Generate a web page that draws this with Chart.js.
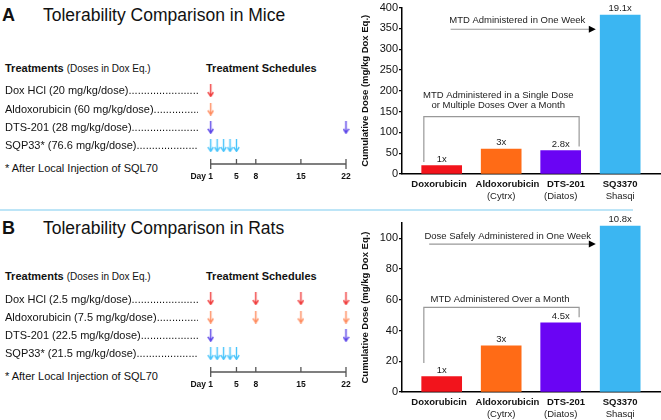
<!DOCTYPE html>
<html>
<head>
<meta charset="utf-8">
<script src="https://cdn.jsdelivr.net/npm/chart.js@4.4.1/dist/chart.umd.min.js"></script>
<style>
  body { margin: 0; background: #fff; }
  #fig { position: relative; width: 661px; height: 420px; overflow: hidden; font-family: "Liberation Sans", Arial, sans-serif; color: #111; }
  #fig div, #fig canvas { position: absolute; }
  .tag { left: 2px; font-size: 18px; font-weight: bold; line-height: 20px; }
  .title { left: 43px; font-size: 17.5px; line-height: 20px; white-space: nowrap; }
  .head { font-size: 11px; font-weight: bold; line-height: 13px; white-space: nowrap; }
  .head span { font-weight: normal; font-size: 10px; }
  .row { left: 5px; width: 193px; font-size: 11px; line-height: 13px; display: flex; white-space: nowrap; overflow: hidden; }
  .row .dots { flex: 1; min-width: 0; overflow: hidden; }
  .note { left: 5px; font-size: 11px; line-height: 13px; white-space: nowrap; }
  .divider { left: 0; top: 209px; width: 633px; height: 1.5px; background: #bde5f7; }
</style>
</head>
<body>
<div id="fig">
  <div class="tag" style="top:5px">A</div>
  <div class="title" style="top:5px">Tolerability Comparison in Mice</div>
  <div class="head" style="left:5px;top:61.5px">Treatments <span>(Doses in Dox Eq.)</span></div>
  <div class="head" style="left:206px;top:61.5px">Treatment Schedules</div>
  <div class="note" style="top:161.5px">* After Local Injection of SQL70</div>
  <canvas id="schedA" width="170" height="110" style="left:190px;top:76px"></canvas>
  <canvas id="barA" width="331" height="203" style="left:330px;top:0"></canvas>

  <div class="divider"></div>

  <div class="tag" style="top:218px">B</div>
  <div class="title" style="top:218px">Tolerability Comparison in Rats</div>
  <div class="head" style="left:5px;top:269.5px">Treatments <span>(Doses in Dox Eq.)</span></div>
  <div class="head" style="left:206px;top:269.5px">Treatment Schedules</div>
  <div class="note" style="top:370px">* After Local Injection of SQL70</div>
  <canvas id="schedB" width="170" height="110" style="left:190px;top:284px"></canvas>
  <canvas id="barB" width="331" height="208" style="left:330px;top:212px"></canvas>
</div>
<script>
// bar chart data
const drugs = ["Doxorubicin", "Aldoxorubicin", "DTS-201", "SQ3370"];
const makers = ["", "(Cytrx)", "(Diatos)", "Shasqi"];
const barColors = ["#f2141c", "#ff6b16", "#6a04f4", "#3bb6f2"];
const miceDose = [20, 60, 56, 382];
const miceFold = ["1x", "3x", "2.8x", "19.1x"];
const ratDose = [10, 30, 45, 108];
const ratFold = ["1x", "3x", "4.5x", "10.8x"];
// where the drug names sit on the x axis (they are not quite centred in the original)
const labelAt = [0.955, 2.106, 3.089, 4.0];

// schedules (days a dose is given, one list per treatment row)
const dayTicks = [1, 5, 8, 15, 22];
const arrowColors = ["#f03a3a", "#ff8a5c", "#5b44e8", "#48c4fb"];
const miceTreatments = ["Dox HCl (20 mg/kg/dose)", "Aldoxorubicin (60 mg/kg/dose) ", "DTS-201 (28 mg/kg/dose) ", "SQP33* (76.6 mg/kg/dose)"];
const ratTreatments = ["Dox HCl (2.5 mg/kg/dose)", "Aldoxorubicin (7.5 mg/kg/dose) ", "DTS-201 (22.5 mg/kg/dose) ", "SQP33* (21.5 mg/kg/dose)"];
const miceDays = [[1], [1], [1, 22], [1, 2, 3, 4, 5]];
const ratDays = [[1, 8, 15, 22], [1, 8, 15, 22], [1, 22], [1, 2, 3, 4, 5]];

const FONT = "'Liberation Sans', Arial, sans-serif";
Chart.defaults.font.family = FONT;
Chart.defaults.color = "#111";

const fig = document.getElementById("fig");
function addRows(names, top) {
  names.forEach((n, i) => {
    const d = document.createElement("div");
    d.className = "row";
    d.style.top = (top + i * 18.33) + "px";
    d.innerHTML = `<span>${n}</span><span class="dots">${".".repeat(70)}</span>`;
    fig.appendChild(d);
  });
}
addRows(miceTreatments, 84.3);
addRows(ratTreatments, 292.5);

// little down arrow used as point style
function arrowImg(color) {
  const c = document.createElement("canvas");
  c.width = 7; c.height = 13;
  const g = c.getContext("2d");
  g.strokeStyle = color;
  g.lineWidth = 1.4;
  g.beginPath(); g.moveTo(3.5, 0); g.lineTo(3.5, 12); g.stroke();
  g.beginPath(); g.moveTo(0.8, 8); g.lineTo(3.5, 12.2); g.lineTo(6.2, 8); g.stroke();
  return c;
}

const dayAxisPlugin = {
  id: "dayAxis",
  afterDraw(chart) {
    const { ctx, scales: { x, y } } = chart;
    const base = y.bottom;
    ctx.save();
    ctx.strokeStyle = "#555";
    ctx.lineWidth = 1.3;
    ctx.beginPath(); ctx.moveTo(x.left, base); ctx.lineTo(x.right, base); ctx.stroke();
    dayTicks.forEach((d, i) => {
      const px = x.getPixelForValue(d);
      const end = i === 0 || i === dayTicks.length - 1;
      ctx.beginPath(); ctx.moveTo(px, base - 5); ctx.lineTo(px, end ? base + 5 : base); ctx.stroke();
    });
    ctx.fillStyle = "#111";
    ctx.font = "bold 8.5px " + FONT;
    ctx.textBaseline = "middle";
    dayTicks.forEach((d, i) => {
      const px = x.getPixelForValue(d);
      if (i === 0) {
        ctx.textAlign = "right";
        ctx.fillText("Day " + d, px + ctx.measureText(String(d)).width / 2, base + 12.7);
      } else {
        ctx.textAlign = "center";
        ctx.fillText(String(d), px, base + 12.7);
      }
    });
    ctx.restore();
  }
};

function scheduleChart(id, days) {
  return new Chart(document.getElementById(id), {
    type: "scatter",
    data: {
      datasets: days.map((list, row) => ({
        data: list.map((d) => ({ x: d, y: row })),
        pointStyle: arrowImg(arrowColors[row]),
        pointRadius: 5,
        clip: false
      }))
    },
    options: {
      responsive: false,
      animation: false,
      layout: { autoPadding: false, padding: { left: 20.7, right: 14, top: 0, bottom: 22 } },
      plugins: { legend: { display: false }, tooltip: { enabled: false } },
      scales: {
        x: { type: "linear", min: 1, max: 22, display: false },
        y: { type: "linear", min: -0.8, max: 4, reverse: true, display: false }
      }
    },
    plugins: [dayAxisPlugin]
  });
}

const notesPlugin = {
  id: "notes",
  afterDatasetsDraw(chart, args, o) {
    const { ctx, scales: { x, y } } = chart;
    const bars = chart.getDatasetMeta(0).data;
    ctx.save();
    ctx.fillStyle = "#222";
    ctx.textAlign = "center";
    ctx.font = "9.5px " + FONT;

    // fold change labels above bars
    ctx.textBaseline = "bottom";
    o.folds.forEach((f, i) => ctx.fillText(f, bars[i].x, bars[i].y - 1.5));

    // maker names under the drug names
    ctx.textBaseline = "middle";
    makers.forEach((m, i) => ctx.fillText(m, x.getPixelForValue(i + 1), x.top + 22));

    // arrow + caption
    const a = o.arrow;
    const ay = y.getPixelForValue(a.y);
    const ax1 = x.getPixelForValue(a.x1), ax2 = x.getPixelForValue(a.x2);
    ctx.strokeStyle = "#999";
    ctx.lineWidth = 1.2;
    ctx.beginPath(); ctx.moveTo(ax1, ay); ctx.lineTo(ax2 - 6, ay); ctx.stroke();
    ctx.fillStyle = "#000";
    ctx.beginPath(); ctx.moveTo(ax2, ay); ctx.lineTo(ax2 - 7, ay - 3.5); ctx.lineTo(ax2 - 7, ay + 3.5); ctx.closePath(); ctx.fill();
    ctx.fillStyle = "#222";
    ctx.fillText(a.text, x.getPixelForValue(a.tx), y.getPixelForValue(a.ty));

    // bracket over the first three drugs
    const b = o.bracket;
    const bx1 = x.getPixelForValue(b.x1), bx2 = x.getPixelForValue(b.x2);
    ctx.beginPath();
    ctx.moveTo(bx1, y.getPixelForValue(b.left));
    ctx.lineTo(bx1, y.getPixelForValue(b.top));
    ctx.lineTo(bx2, y.getPixelForValue(b.top));
    ctx.lineTo(bx2, y.getPixelForValue(b.right));
    ctx.stroke();
    b.text.forEach((t, i) => ctx.fillText(t, x.getPixelForValue(b.tx), y.getPixelForValue(b.ty[i])));
    ctx.restore();
  }
};

function barChart(id, doses, folds, yMax, yStep, padTop, axisH, arrow, bracket) {
  return new Chart(document.getElementById(id), {
    type: "bar",
    data: {
      datasets: [{
        data: doses.map((v, i) => ({ x: i + 1, y: v })),
        backgroundColor: barColors,
        barThickness: 40
      }]
    },
    options: {
      responsive: false,
      animation: false,
      layout: { autoPadding: false, padding: { top: padTop, left: 0, right: 0, bottom: 0 } },
      plugins: {
        legend: { display: false },
        tooltip: { enabled: false },
        notes: { folds, arrow, bracket }
      },
      scales: {
        x: {
          type: "linear", min: 0.333, max: 4.686, offset: false,
          grid: { display: false, drawTicks: false, offset: false },
          border: { color: "#000", width: 1.5 },
          afterBuildTicks: (s) => { s.ticks = labelAt.map((v) => ({ value: v })); },
          afterFit: (s) => { s.height = axisH; },
          ticks: {
            autoSkip: false, maxRotation: 0, padding: 5,
            font: { size: 9.5, weight: "bold" }, color: "#111",
            callback: (v, i) => drugs[i]
          }
        },
        y: {
          min: 0, max: yMax,
          border: { color: "#000", width: 1.5 },
          grid: { drawOnChartArea: false, tickLength: 3, color: "#000", lineWidth: 1.2 },
          afterBuildTicks: (s) => { s.ticks = s.ticks.filter((t) => t.value % yStep === 0); },
          afterFit: (s) => { s.width = 72; },
          ticks: { stepSize: yStep, padding: 1, font: { size: 11 }, color: "#111" },
          title: {
            display: true, text: "Cumulative Dose (mg/kg Dox Eq.)",
            font: { size: 9.5, weight: "bold" }, color: "#111", padding: { top: 30, bottom: 0 }
          }
        }
      }
    },
    plugins: [notesPlugin]
  });
}

scheduleChart("schedA", miceDays);
scheduleChart("schedB", ratDays);

barChart("barA", miceDose, miceFold, 400, 50, 5, 29,
  { x1: 1.15, x2: 3.59, y: 348, text: "MTD Administered in One Week", tx: 2.27, ty: 369 },
  { x1: 0.70, x2: 3.31, top: 138, left: 29, right: 66,
    text: ["MTD Administered in a Single Dose", "or Multiple Doses Over a Month"], tx: 1.95, ty: [189, 166] });

barChart("barB", ratDose, ratFold, 110, 20, 11, 28,
  { x1: 0.79, x2: 3.59, y: 96.3, text: "Dose Safely Administered in One Week", tx: 2.11, ty: 101.1 },
  { x1: 0.70, x2: 3.31, top: 55.1, left: 18.9, right: 48.6,
    text: ["MTD Administered Over a Month"], tx: 1.98, ty: [60.5] });
</script>
</body>
</html>
